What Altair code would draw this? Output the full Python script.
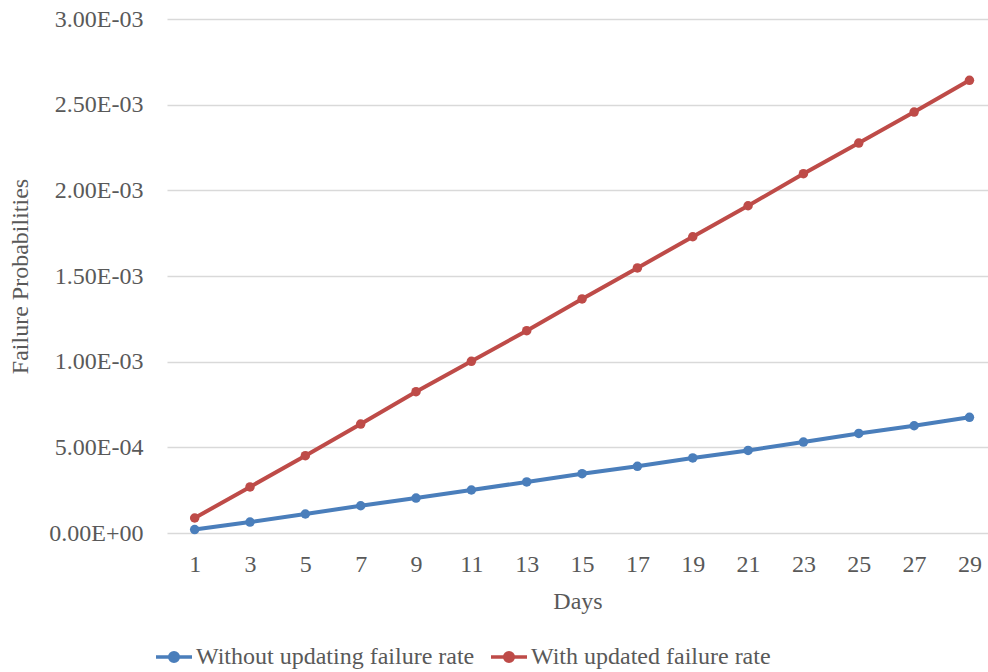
import altair as alt
import pandas as pd

days = [1, 3, 5, 7, 9, 11, 13, 15, 17, 19, 21, 23, 25, 27, 29]
without_updating = [2.0e-5, 6.4e-5, 1.11e-4, 1.59e-4, 2.04e-4, 2.51e-4, 2.98e-4, 3.46e-4,
                    3.89e-4, 4.38e-4, 4.82e-4, 5.31e-4, 5.81e-4, 6.26e-4, 6.75e-4]
with_updated = [8.75e-5, 2.69e-4, 4.51e-4, 6.36e-4, 8.25e-4, 1.002e-3, 1.181e-3, 1.366e-3,
                1.547e-3, 1.729e-3, 1.910e-3, 2.097e-3, 2.276e-3, 2.457e-3, 2.642e-3]
series_names = ["Without updating failure rate", "With updated failure rate"]
series_colors = ["#4A7EBB", "#BE4B48"]
y_ticks = [0, 0.0005, 0.001, 0.0015, 0.002, 0.0025, 0.003]

rows = []
for d, v in zip(days, without_updating):
    rows.append({"Days": d, "Value": v, "Series": series_names[0]})
for d, v in zip(days, with_updated):
    rows.append({"Days": d, "Value": v, "Series": series_names[1]})
df = pd.DataFrame(rows)

FONT = "Liberation Serif"
GRAY = "#595959"

label_expr = (
    "datum.value == 0 ? '0.00E+00' : "
    "format(datum.value / pow(10, floor(log(datum.value)/LN10 + 1e-9)), '.2f') + 'E' + "
    "(floor(log(datum.value)/LN10 + 1e-9) < 0 ? '-' : '+') + "
    "(abs(floor(log(datum.value)/LN10 + 1e-9)) < 10 ? '0' : '') + "
    "abs(floor(log(datum.value)/LN10 + 1e-9))"
)

x = alt.X("Days:Q",
          scale=alt.Scale(domain=[0, 29.67], nice=False, zero=False),
          axis=alt.Axis(values=days, grid=False, domain=False, ticks=False,
                        labelFont=FONT, labelFontSize=24, labelColor=GRAY,
                        labelPadding=19, title="Days", titleFont=FONT,
                        titleFontSize=24, titleFontWeight="normal",
                        titleColor=GRAY, titlePadding=13, labelFlush=False))
y = alt.Y("Value:Q",
          scale=alt.Scale(domain=[0, 0.003], nice=False),
          axis=alt.Axis(values=y_ticks, labelExpr=label_expr, domain=False, ticks=False,
                        gridColor="#D9D9D9", gridWidth=1.3,
                        labelFont=FONT, labelFontSize=24, labelColor=GRAY,
                        labelPadding=24, title="Failure Probabilities",
                        titleFont=FONT, titleFontSize=24, titleFontWeight="normal",
                        titleColor=GRAY, titlePadding=16))
symbol_path = ("M-1,0L1,0M-0.24,0A0.24,0.24,0,1,0,0.24,0"
               "A0.24,0.24,0,1,0,-0.24,0Z")
color = alt.Color("Series:N",
                  scale=alt.Scale(domain=series_names, range=series_colors),
                  legend=alt.Legend(title=None, orient="none", direction="horizontal",
                                    legendX=-13, legendY=618,
                                    symbolType=symbol_path, symbolSize=1296,
                                    symbolStrokeWidth=3.5,
                                    labelFont=FONT, labelFontSize=24, labelColor=GRAY,
                                    labelOffset=2, columnPadding=9,
                                    labelLimit=400))

base = alt.Chart(df).encode(x=x, y=y, color=color)
lines = base.mark_line(strokeWidth=4)
points = base.mark_point(filled=True, size=90, opacity=1)

chart = alt.layer(lines, points).properties(
    width=821, height=514,
    autosize=alt.AutoSizeParams(type="none"),
    padding={"left": 167, "top": 19, "right": 0, "bottom": 139},
    background="white",
).configure_view(stroke=None)

chart.save("out.html", embed_options={"renderer": "svg", "actions": False})
